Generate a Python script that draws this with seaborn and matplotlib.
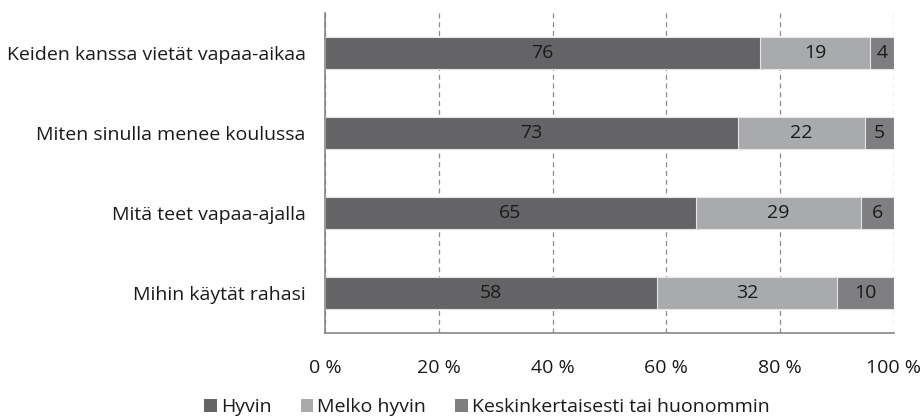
import numpy as np
import pandas as pd
import matplotlib
matplotlib.use("Agg")
import matplotlib.pyplot as plt
import seaborn as sns
from matplotlib.patches import Patch

categories = ["Keiden kanssa vietät vapaa-aikaa", "Miten sinulla menee koulussa",
              "Mitä teet vapaa-ajalla", "Mihin käytät rahasi"]
hyvin = [76.4, 72.6, 65.2, 58.3]
melko = [19.4, 22.3, 29.0, 31.7]
keski = [4.2, 5.1, 5.8, 10.0]
series_names = ["Hyvin", "Melko hyvin", "Keskinkertaisesti tai huonommin"]
colors = ["#646466", "#A9AAAC", "#7F7F81"]
xticks = [0, 20, 40, 60, 80, 100]

sns.set_theme(style="white")
plt.rcParams["font.family"] = ["Open Sans", "DejaVu Sans"]
FS = 14
TXT = "#1a1a1a"

fig = plt.figure(figsize=(9.23, 4.17), dpi=100)
ax = fig.add_axes([325/923, 1-333/417, 569/923, 320/417])

h = np.array(hyvin); m = np.array(melko); k = np.array(keski)
cum = [h + m + k, h + m, h]
bar_colors = [colors[2], colors[1], colors[0]]
for vals, c in zip(cum, bar_colors):
    df = pd.DataFrame({"cat": categories, "val": vals})
    sns.barplot(data=df, y="cat", x="val", color=c, width=0.4, orient="h",
                edgecolor="#E6E6E6", linewidth=0.8, ax=ax, saturation=1)

# value labels
for i in range(len(categories)):
    starts = [0, h[i], h[i] + m[i]]
    for s, v in zip(starts, [h[i], m[i], k[i]]):
        ax.text(s + v/2, i, f"{round(v):.0f}", ha="center", va="center",
                fontsize=FS, color=TXT)

ax.set_xlim(0, 100)
ax.set_ylim(3.5, -0.5)
ax.set_xticks(xticks)
ax.set_xticklabels([f"{t} %" for t in xticks], fontsize=FS, color=TXT)
ax.set_xlabel(""); ax.set_ylabel("")
ax.set_yticks(range(len(categories)))
ax.set_yticklabels(categories, fontsize=FS, color=TXT)
ax.tick_params(axis="y", which="major", length=0, pad=14)
ax.set_yticks([-0.5, 0.5, 1.5, 2.5, 3.5], minor=True)
ax.tick_params(axis="y", which="minor", length=5, color="#868686", width=1)
ax.tick_params(axis="x", which="major", length=5, color="#868686", width=1,
               direction="out", pad=14)
ax.xaxis.grid(True, linestyle=(0, (4, 3)), color="#8C8C8C", linewidth=0.9)
ax.set_axisbelow(True)
for s in ["top", "right"]:
    ax.spines[s].set_visible(False)
for s in ["left", "bottom"]:
    ax.spines[s].set_color("#868686")
    ax.spines[s].set_linewidth(1.2)

handles = [Patch(facecolor=c, edgecolor="none", label=n) for c, n in zip(colors, series_names)]
fig.legend(handles=handles, loc="center", bbox_to_anchor=(487/923, 1-407/417), ncol=3,
           frameon=False, fontsize=FS, handlelength=0.65, handleheight=0.65,
           handletextpad=0.2, columnspacing=1.5, labelcolor=TXT)

fig.savefig("out.png", dpi=100)
